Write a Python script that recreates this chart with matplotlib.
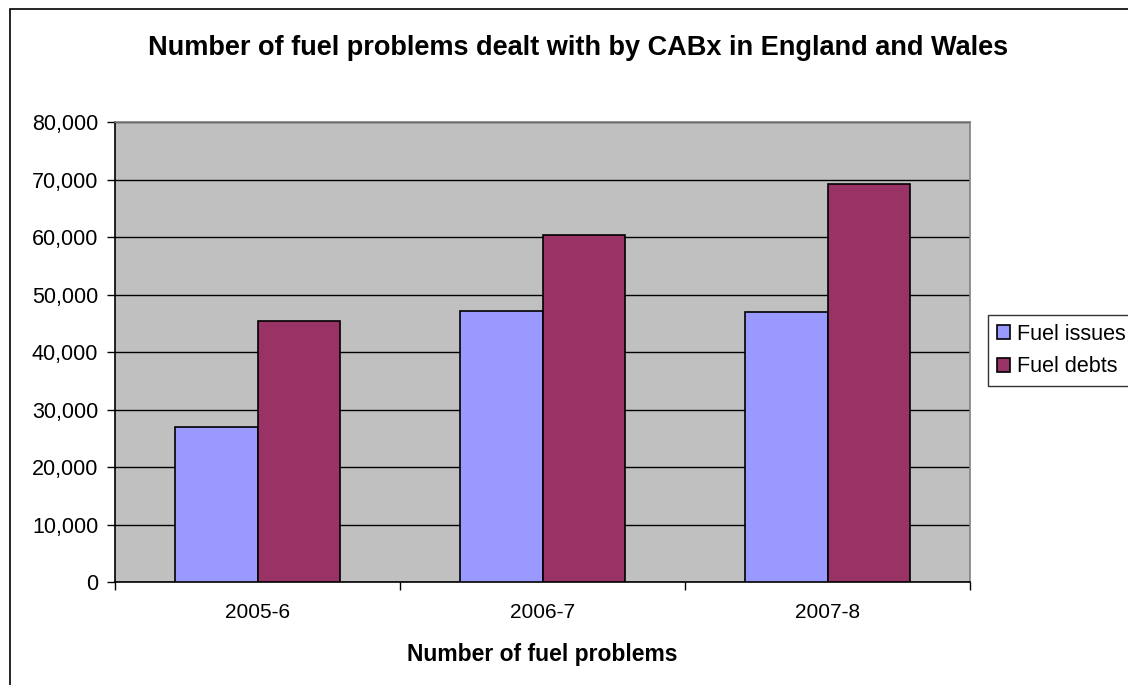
# Excel-style clustered bar chart
import matplotlib.pyplot as plt
import matplotlib.patches as mpatches
import numpy as np

years = ["2005-6", "2006-7", "2007-8"]
fuel_issues = [27000, 47200, 47000]
fuel_debts = [45400, 60300, 69300]

plt.rcParams['font.family'] = ['Liberation Sans', 'DejaVu Sans']

fig = plt.figure(figsize=(11.28, 6.85), dpi=100)
ax = fig.add_axes([115 / 1128, 1 - 582 / 685, 855 / 1128, 460 / 685])

x = np.arange(len(years))
w = 0.288
ax.bar(x - w / 2, fuel_issues, w, color="#9999FF", edgecolor="black", linewidth=1.2,
       label="Fuel issues", zorder=3)
ax.bar(x + w / 2, fuel_debts, w, color="#993366", edgecolor="black", linewidth=1.2,
       label="Fuel debts", zorder=3)

ax.set_facecolor("#C0C0C0")
ax.set_xlim(-0.5, 2.5)
ax.set_ylim(0, 80000)
ax.set_yticks(np.arange(0, 80001, 10000))
ax.set_yticklabels([f"{v:,}" for v in range(0, 80001, 10000)], fontsize=15.5)
ax.yaxis.grid(True, color="black", linewidth=1, zorder=1)
ax.set_axisbelow(True)

ax.set_xticks(x)
ax.set_xticklabels(years, fontsize=15)
ax.set_xticks([-0.5, 0.5, 1.5, 2.5], minor=True)
ax.tick_params(axis="x", which="major", length=0, pad=15)
ax.tick_params(axis="x", which="minor", length=6, width=1, color="black", direction="out")
ax.tick_params(axis="y", length=6, width=1, color="black", direction="out", pad=6)

for s in ["top", "right"]:
    ax.spines[s].set_color("#808080")
    ax.spines[s].set_linewidth(1.2)
for s in ["left", "bottom"]:
    ax.spines[s].set_color("black")
    ax.spines[s].set_linewidth(1.2)

ax.set_xlabel("Number of fuel problems", fontsize=16.5, fontweight="bold", labelpad=15)

fig.text(578 / 1128, 1 - 48 / 685, "Number of fuel problems dealt with by CABx in England and Wales",
         ha="center", va="center", fontsize=19.5, fontweight="bold")

# chart border (right and bottom run past the image)
fig.patches.append(mpatches.Rectangle((10 / 1128, -0.1), 1.2, 1.1 - 9 / 685,
                                      transform=fig.transFigure, fill=False,
                                      edgecolor="black", linewidth=1.2))

leg = fig.legend(loc="upper left", bbox_to_anchor=(988 / 1128, 1 - 315 / 685),
                 fontsize=15.5, frameon=True, fancybox=False, handlelength=0.6,
                 handleheight=0.6, handletextpad=0.35, borderpad=0.4,
                 labelspacing=0.55, borderaxespad=0)
leg.get_frame().set_edgecolor("black")
leg.get_frame().set_linewidth(1)

fig.savefig("out.png", dpi=100)
